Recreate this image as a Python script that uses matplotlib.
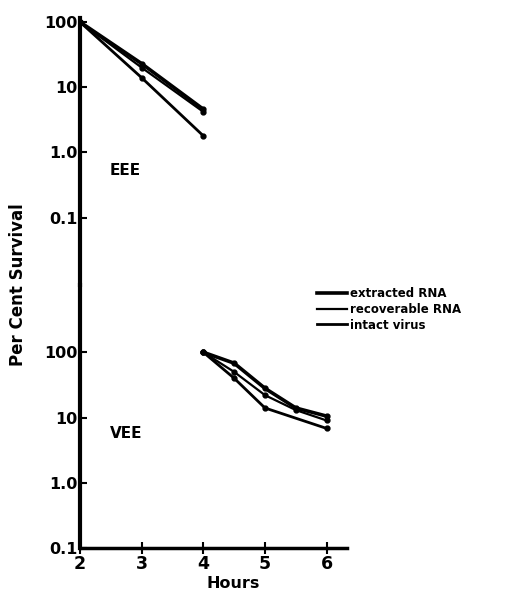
import matplotlib
matplotlib.use("Agg")
import matplotlib.pyplot as plt
from matplotlib.lines import Line2D

# EEE panel (top): survival over 2-4 hours
eee_hours = [2, 3, 4]
eee_extracted = [100, 23, 4.6]
eee_recoverable = [100, 20, 4.2]
eee_intact = [100, 14, 1.8]

# VEE panel (bottom): survival over 4-6 hours
vee_hours = [4, 4.5, 5, 5.5, 6]
vee_extracted = [100, 68, 28, 14, 10.5]
vee_recoverable = [100, 50, 22, 13, 9]
vee_hours_intact = [4, 4.5, 5, 6]
vee_intact = [100, 40, 14, 6.8]

hour_ticks = [2, 3, 4, 5, 6]
y_ticks = [0.1, 1.0, 10, 100]
y_tick_labels = ["0.1", "1.0", "10", "100"]
legend_labels = ["extracted RNA", "recoverable RNA", "intact virus"]

W, H = 514, 591
fig = plt.figure(figsize=(W / 100, H / 100), dpi=100)
fig.patch.set_facecolor("white")

left = 80 / W
width = 267 / W
split = 285
ax_top = fig.add_axes([left, 1 - split / H, width, (split - 18) / H])
ax_bot = fig.add_axes([left, 1 - 548 / H, width, (548 - split) / H])

for ax in (ax_top, ax_bot):
    ax.set_yscale("log")
    ax.set_xlim(2, 6.33)
    ax.set_yticks(y_ticks)
    ax.set_yticklabels(y_tick_labels, fontsize=11.5, fontweight="bold")
    ax.minorticks_off()
    ax.tick_params(axis="y", direction="in", length=5, width=1.5, pad=2)
    ax.spines["top"].set_visible(False)
    ax.spines["right"].set_visible(False)
    ax.spines["left"].set_linewidth(3)
    ax.patch.set_alpha(0)

ax_top.set_ylim(10 ** -2.031, 10 ** 2.0615)
ax_bot.set_ylim(0.1, 10 ** 3.031)

ax_top.spines["bottom"].set_visible(False)
ax_top.set_xticks([])

ax_bot.spines["bottom"].set_linewidth(2.5)
ax_bot.set_xticks(hour_ticks)
ax_bot.set_xticklabels([str(h) for h in hour_ticks], fontsize=12.5,
                       fontweight="bold")
ax_bot.tick_params(axis="x", direction="inout", length=8, width=1.5, pad=1)
ax_bot.set_xlabel("Hours", fontsize=11.5, fontweight="bold")
ax_bot.xaxis.set_label_coords(0.575, -0.105)

kw = dict(color="black", marker="o", markersize=3.5)
ax_top.plot(eee_hours, eee_extracted, lw=2.6, **kw)
ax_top.plot(eee_hours, eee_recoverable, lw=1.6, **kw)
ax_top.plot(eee_hours, eee_intact, lw=2.0, **kw)

ax_bot.plot(vee_hours, vee_extracted, lw=2.6, **kw)
ax_bot.plot(vee_hours, vee_recoverable, lw=1.6, **kw)
ax_bot.plot(vee_hours_intact, vee_intact, lw=2.0, **kw)

ax_top.text(2.48, 0.53, "EEE", fontsize=11, fontweight="bold",
            va="center")
ax_bot.text(2.48, 5.7, "VEE", fontsize=11, fontweight="bold",
            va="center")

fig.text(18 / W, 1 - 285 / H, "Per Cent Survival", rotation=90,
         fontsize=12, fontweight="bold", ha="center", va="center")

handles = [Line2D([], [], color="black", lw=2.6),
           Line2D([], [], color="black", lw=1.6),
           Line2D([], [], color="black", lw=2.0)]
fig.legend(handles, legend_labels, loc="upper left",
           bbox_to_anchor=(312 / W, 1 - 282 / H), frameon=False,
           prop=dict(size=8.5, weight="bold"), handlelength=2.6,
           handletextpad=0.2, labelspacing=0.25, borderaxespad=0)

fig.savefig("out.png", dpi=100, facecolor="white")
